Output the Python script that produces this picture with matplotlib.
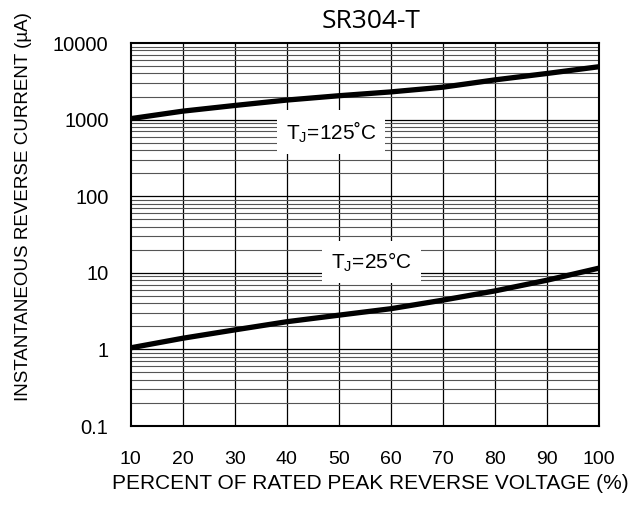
import matplotlib.pyplot as plt
import numpy as np

plt.rcParams['font.family'] = ['Liberation Sans', 'DejaVu Sans']

# percent of rated peak reverse voltage
voltage = [10, 20, 30, 40, 50, 60, 70, 80, 90, 100]
# reverse current (uA)
tj125 = [1030, 1290, 1530, 1800, 2050, 2300, 2650, 3300, 4000, 4900]
tj25 = [1.05, 1.4, 1.8, 2.3, 2.8, 3.4, 4.4, 5.8, 8.0, 11.5]
yticks = [0.1, 1, 10, 100, 1000, 10000]
ylabels = ['0.1', '1', '10', '100', '1000', '10000']

fig = plt.figure(figsize=(6.29, 5.09), dpi=100)
ax = fig.add_axes([0.208, 0.163, 0.744, 0.7525])

ax.set_yscale('log')
ax.set_xlim(10, 100)
ax.set_ylim(0.1, 10000)

# grid
for x in range(20, 100, 10):
    ax.axvline(x, color='black', lw=0.9, zorder=1)
for d in [0.1, 1, 10, 100, 1000]:
    for m in range(2, 10):
        ax.axhline(d * m, color='#555555', lw=0.8, zorder=1)
    if d > 0.1:
        ax.axhline(d, color='black', lw=0.9, zorder=1)

ax.plot(voltage, tj125, color='black', lw=3.8, zorder=3, solid_capstyle='butt')
ax.plot(voltage, tj25, color='black', lw=3.8, zorder=3, solid_capstyle='butt')

ax.text(48.5, 690, 'T$_\\mathregular{J}$=125˚C', fontsize=15, ha='center', va='center',
        bbox=dict(facecolor='white', edgecolor='none', pad=6.5), zorder=2)
ax.text(56.3, 13.9, 'T$_\\mathregular{J}$=25°C', fontsize=15, ha='center', va='center',
        bbox=dict(facecolor='white', edgecolor='none', pad=6.5), zorder=2)

ax.set_xticks(voltage)
ax.set_xticklabels([str(v) for v in voltage])
ax.set_yticks(yticks)
ax.set_yticklabels(ylabels)
ax.minorticks_off()
ax.tick_params(length=0, labelsize=14.5)
ax.tick_params(axis='x', labelsize=14, pad=18)
ax.tick_params(axis='y', pad=16)

for s in ax.spines.values():
    s.set_linewidth(1.5)
    s.set_color('black')
    s.set_zorder(4)

fig.text(0.59, 1 - 28 / 509, 'SR304-T', fontsize=19, family=['Open Sans', 'DejaVu Sans'],
         ha='center', va='baseline')
ax.set_xlabel('PERCENT OF RATED PEAK REVERSE VOLTAGE (%)', fontsize=15)
ax.set_ylabel('INSTANTANEOUS REVERSE CURRENT (µA)', fontsize=13.5)
ax.xaxis.set_label_coords(0.511, -0.125)
ax.yaxis.set_label_coords(-0.211, 0.572)

fig.savefig('out.png', dpi=100)
